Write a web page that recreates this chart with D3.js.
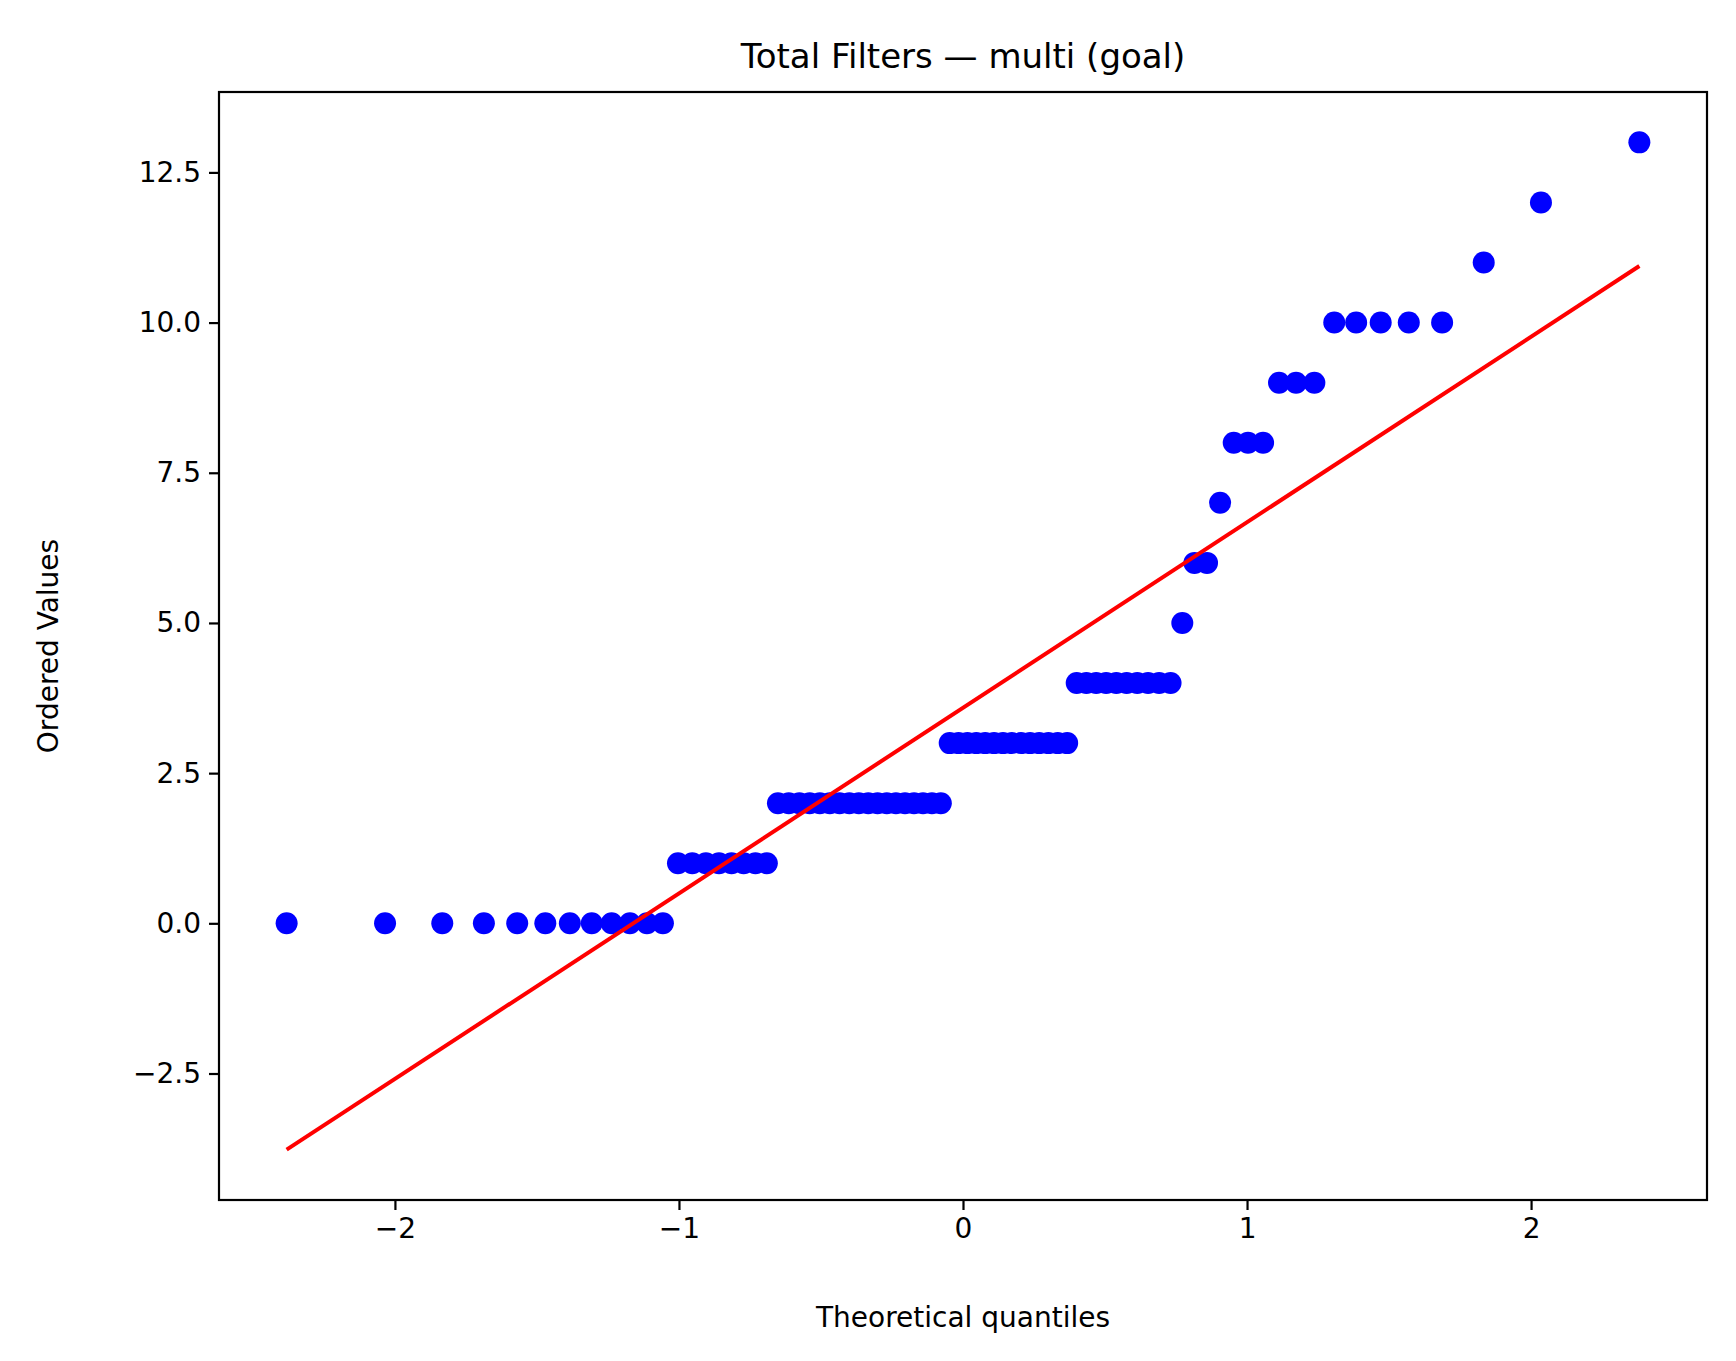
<!DOCTYPE html>
<html><head><meta charset="utf-8">
<script src="https://cdn.jsdelivr.net/npm/d3@7"></script>
<style>body{margin:0;background:#fff}text{font-family:"DejaVu Sans",sans-serif}</style>
</head><body><svg id="c" width="1736" height="1361"></svg>
<script>
// value levels and how many observations sit at each
const levels = [0,1,2,3,4,5,6,7,8,9,10,11,12,13];
const counts = [12,8,18,14,10,1,2,1,3,3,5,1,1,1];
const yTicks = [-2.5,0,2.5,5,7.5,10,12.5];
const xTicks = [-2,-1,0,1,2];

const values = [];
levels.forEach((v,i)=>{for(let k=0;k<counts[i];k++) values.push(v);});
const n = values.length;
// inverse normal CDF (Acklam)
function ppf(p){
  const a=[-39.6968302866538,220.946098424521,-275.928510446969,138.357751867269,-30.6647980661472,2.50662827745924];
  const b=[-54.4760987982241,161.585836858041,-155.698979859887,66.8013118877197,-13.2806815528857];
  const c=[-0.00778489400243029,-0.322396458041136,-2.40075827716184,-2.54973253934373,4.37466414146497,2.93816398269878];
  const d=[0.00778469570904146,0.32246712907004,2.445134137143,3.75440866190742];
  const pl=0.02425;let q,r;
  if(p<pl){q=Math.sqrt(-2*Math.log(p));return (((((c[0]*q+c[1])*q+c[2])*q+c[3])*q+c[4])*q+c[5])/((((d[0]*q+d[1])*q+d[2])*q+d[3])*q+1);}
  if(p>1-pl){q=Math.sqrt(-2*Math.log(1-p));return -(((((c[0]*q+c[1])*q+c[2])*q+c[3])*q+c[4])*q+c[5])/((((d[0]*q+d[1])*q+d[2])*q+d[3])*q+1);}
  q=p-0.5;r=q*q;return (((((a[0]*r+a[1])*r+a[2])*r+a[3])*r+a[4])*r+a[5])*q/(((((b[0]*r+b[1])*r+b[2])*r+b[3])*r+b[4])*r+1);
}
const pts = values.map((v,i)=>{
  let m;
  if(i===n-1) m=Math.pow(0.5,1/n);
  else if(i===0) m=1-Math.pow(0.5,1/n);
  else m=(i+1-0.3175)/(n+0.365);
  return {x:ppf(m),y:v};
});
const mx=d3.mean(pts,d=>d.x), my=d3.mean(pts,d=>d.y);
const slope=d3.sum(pts,d=>(d.x-mx)*(d.y-my))/d3.sum(pts,d=>(d.x-mx)**2);
const icpt=my-slope*mx;
const x0=pts[0].x,x1=pts[n-1].x;
const line=[{x:x0,y:icpt+slope*x0},{x:x1,y:icpt+slope*x1}];

const L=219,R=1707,T=92,B=1200;
const xr=[x0,x1], xm=(xr[1]-xr[0])*0.05;
const ylo=Math.min(line[0].y,0), yhi=13, ym=(yhi-ylo)*0.05;
const x=d3.scaleLinear().domain([xr[0]-xm,xr[1]+xm]).range([L,R]);
const y=d3.scaleLinear().domain([ylo-ym,yhi+ym]).range([B,T]);
const svg=d3.select("#c");
const fmtX=d=>d<0?"\u2212"+Math.abs(d):String(d);
const fmtY=d=>(d<0?"\u2212":"")+Math.abs(d).toFixed(1);
const gx=svg.append("g").attr("transform",`translate(0,${B})`).call(d3.axisBottom(x).tickValues(xTicks).tickFormat(fmtX).tickSize(10).tickPadding(8));
const gy=svg.append("g").attr("transform",`translate(${L},0)`).call(d3.axisLeft(y).tickValues(yTicks).tickFormat(fmtY).tickSize(10).tickPadding(8));
[gx,gy].forEach(g=>{g.select(".domain").remove();g.selectAll("line").attr("stroke","#000").attr("stroke-width",2.2);g.selectAll("text").attr("font-size",28).attr("fill","#000").attr("font-family","DejaVu Sans");});
svg.append("g").selectAll("circle").data(pts).join("circle").attr("cx",d=>x(d.x)).attr("cy",d=>y(d.y)).attr("r",11).attr("fill","#0000ff");
svg.append("line").attr("x1",x(line[0].x)).attr("y1",y(line[0].y)).attr("x2",x(line[1].x)).attr("y2",y(line[1].y)).attr("stroke","#ff0000").attr("stroke-width",4);
svg.append("rect").attr("x",L).attr("y",T).attr("width",R-L).attr("height",B-T).attr("fill","none").attr("stroke","#000").attr("stroke-width",2.2);
svg.append("text").attr("x",(L+R)/2).attr("y",T-24).attr("text-anchor","middle").attr("font-size",34).text("Total Filters \u2014 multi (goal)");
svg.append("text").attr("x",(L+R)/2).attr("y",1327).attr("text-anchor","middle").attr("font-size",28).text("Theoretical quantiles");
svg.append("text").attr("transform",`translate(58,${(T+B)/2}) rotate(-90)`).attr("text-anchor","middle").attr("font-size",28).text("Ordered Values");
</script></body></html>
